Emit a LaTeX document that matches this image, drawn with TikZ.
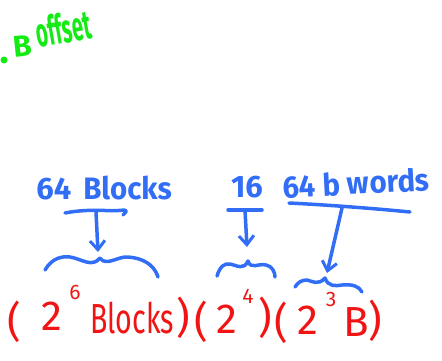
\documentclass[tikz,border=0pt]{standalone}
\usepackage{fontspec}
\setmainfont{Fira Sans}
\usetikzlibrary{arrows.meta}
\definecolor{penblue}{RGB}{50,110,245}
\definecolor{penred}{RGB}{240,20,20}
\definecolor{pengreen}{RGB}{20,235,20}
\tikzset{
  ink/.style={penblue, line width=3.5pt, line cap=round, line join=round},
  pointer/.style={ink, -{Straight Barb[length=9pt,width=15pt,line width=3pt]}},
  greentxt/.style={pengreen, inner sep=0pt, font=\fontsize{30}{30}\selectfont\bfseries},
  bluetxt/.style={penblue, inner sep=0pt, font=\fontsize{31}{31}\selectfont\bfseries},
  redtxt/.style={penred, inner sep=0pt, font=\fontsize{42}{42}\selectfont},
  redsup/.style={penred, inner sep=0pt, font=\fontsize{21}{21}\selectfont}
}
\begin{document}
\begin{tikzpicture}[x=1pt,y=-1pt]
\useasboundingbox (0,0) rectangle (442,360);

\fill[pengreen] (4,60) circle (3.5);
\node[greentxt, rotate=6] (bgrn) at (23,46) {B};
\node[greentxt, rotate=10] (offs) at (63,28) {\scalebox{.68}[1.35]{offset}};

\node[bluetxt] (blk) at (104,188) {64\hspace{12pt}\scalebox{.95}[1]{Blocks}};
\node[bluetxt] (sixteen) at (247,187) {16};
\node[bluetxt, rotate=3] (words) at (356,183) {\scalebox{.95}[1]{64 b words}};

\coordinate (blkbar) at (96,212);
\coordinate (blktip) at (98,252);
\coordinate (sixbar) at (245,210);
\coordinate (sixtip) at (247,247);
\coordinate (wrdbar) at (342,208);
\coordinate (wrdtip) at (327,273);

\draw[ink] (65,213) .. controls (90,208) and (110,212) .. (124,210) .. controls (127,211) .. (123,215);
\draw[pointer] (blkbar) -- (blktip);
\draw[ink] (45,270) .. controls (52,258) and (62,256) .. (70,257) .. controls (82,259) and (92,268) .. (100,258)
  .. controls (106,267) and (118,256) .. (128,257) .. controls (142,258) and (154,264) .. (158,277);

\draw[ink] (228,210) -- (262,210);
\draw[pointer] (sixbar) -- (sixtip);
\draw[ink] (217,276) .. controls (220,266) and (225,263) .. (230,264) .. controls (238,266) and (244,270) .. (248,261)
  .. controls (251,270) and (258,263) .. (266,265) .. controls (272,266) and (275,272) .. (275,277);

\draw[ink] (289,203) .. controls (330,205) and (380,209) .. (410,212);
\draw[pointer] (wrdbar) -- (wrdtip);
\draw[ink] (295,287) .. controls (298,282) and (302,280) .. (307,280) .. controls (312,281) and (318,286) .. (325,278)
  .. controls (328,287) and (336,286) .. (342,285) .. controls (352,284) and (359,286) .. (362,292);

\node[redtxt] (lpa) at (14,322) {(};
\node[redtxt] (twoa) at (52,316) {2};
\node[redsup] (expa) at (75,292) {6};
\node[redtxt] (blks) at (132,318) {\scalebox{.68}[1]{Blocks}};
\node[redtxt] (rpa) at (183,318) {)};
\node[redtxt] (lpb) at (201,322) {(};
\node[redtxt] (twob) at (227,319) {2};
\node[redsup] (expb) at (248,296) {4};
\node[redtxt] (rpb) at (265,318) {)};
\node[redtxt] (lpc) at (281,323) {(};
\node[redtxt] (twoc) at (308,320) {2};
\node[redsup] (expc) at (331,299) {3};
\node[redtxt] (bee) at (356,322) {B};
\node[redtxt] (rpc) at (375,321) {)};
\end{tikzpicture}
\end{document}
